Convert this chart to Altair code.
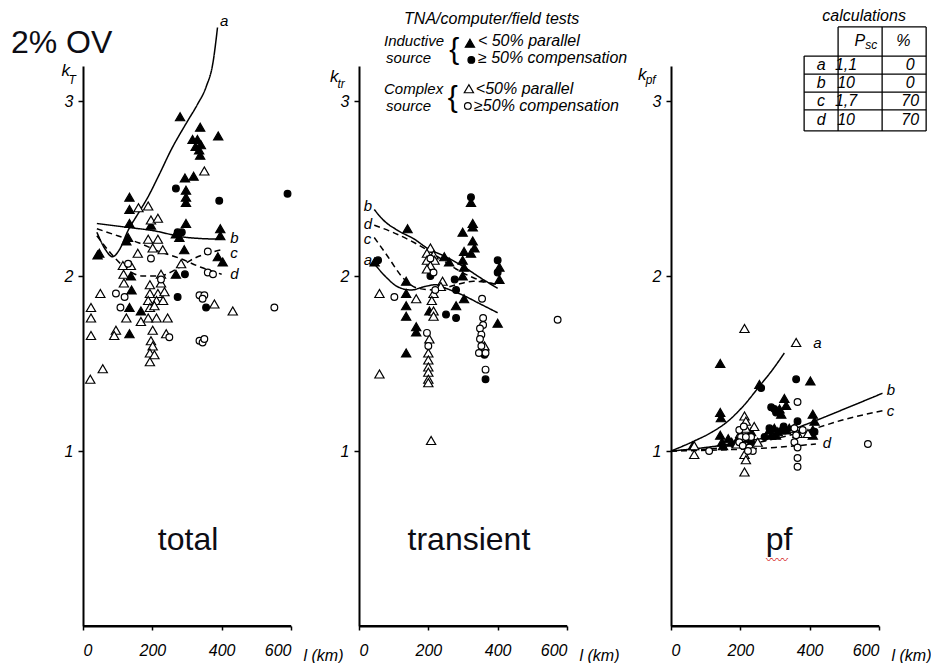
import altair as alt
import pandas as pd

# ------------------------------------------------------------------ data
# marker kinds: inductive source (<50% parallel / >=50% compensation),
#               complex source   (<50% parallel / >=50% compensation)
KINDS = ["ind_par", "ind_comp", "cx_par", "cx_comp"]

# ---- total (k_T)
TOTAL_IND_PAR = [(280, 2.91), (338, 2.85), (390, 2.80), (316, 2.78), (330, 2.78), (340, 2.75),
                 (325, 2.74), (335, 2.72), (338, 2.69), (294, 2.56), (319, 2.57), (297, 2.49),
                 (297, 2.45), (297, 2.42), (134, 2.45), (134, 2.38), (134, 2.30), (130, 2.22),
                 (125, 2.20), (47, 2.13), (42, 2.12), (196, 2.29), (297, 2.30), (268, 2.24),
                 (278, 2.22), (396, 2.27), (396, 2.23), (292, 2.15), (389, 2.11), (403, 2.08),
                 (268, 2.01), (138, 2.00), (140, 1.92), (134, 1.82), (167, 1.80), (134, 1.67)]
TOTAL_IND_COMP = [(268, 2.50), (393, 2.43), (590, 2.47), (273, 2.25), (294, 2.01), (273, 1.88),
                  (355, 1.82), (285, 2.25)]
TOTAL_CX_PAR = [(160, 2.39), (188, 2.40), (196, 2.32), (216, 2.33), (188, 2.21), (216, 2.21),
                (201, 2.16), (230, 2.15), (158, 2.13), (350, 2.60), (283, 2.07), (115, 2.06),
                (138, 2.06), (117, 2.01), (225, 2.01), (118, 1.96), (193, 1.95), (225, 1.96),
                (193, 1.90), (216, 1.90), (235, 1.91), (50, 1.90), (188, 1.86), (212, 1.86),
                (231, 1.86), (193, 1.82), (206, 1.83), (23, 1.82), (23, 1.76), (125, 1.76),
                (167, 1.74), (188, 1.76), (212, 1.76), (244, 1.76), (432, 1.80), (379, 1.84),
                (23, 1.66), (95, 1.69), (90, 1.66), (201, 1.69), (196, 1.63), (201, 1.60),
                (193, 1.56), (206, 1.55), (193, 1.51), (240, 1.67), (57, 1.47), (21, 1.41)]
TOTAL_CX_COMP = [(196, 2.10), (360, 2.14), (360, 2.02), (375, 2.01), (95, 1.90), (336, 1.89),
                 (350, 1.89), (345, 1.87), (108, 1.82), (552, 1.82), (249, 1.65), (336, 1.63),
                 (345, 1.62), (350, 1.64), (225, 1.98), (130, 2.07), (120, 1.88)]

TOTAL_A = [(40, 2.25), (65, 2.15), (85, 2.11), (105, 2.15), (130, 2.26), (160, 2.36), (187, 2.45),
           (220, 2.58), (254, 2.72), (300, 2.88), (330, 2.98), (355, 3.08), (375, 3.22), (388, 3.42)]
TOTAL_B = [(40, 2.30), (120, 2.28), (200, 2.26), (300, 2.22), (400, 2.21)]
TOTAL_C = [(40, 2.23), (80, 2.13), (120, 2.05), (170, 2.00), (220, 2.00), (270, 2.04),
           (320, 2.10), (400, 2.15)]
TOTAL_D = [(40, 2.27), (100, 2.23), (160, 2.19), (220, 2.14), (280, 2.10), (340, 2.05), (400, 2.01)]

# ---- transient (k_tr)
TRANS_IND_PAR = [(140, 2.27), (323, 2.42), (328, 2.30), (328, 2.28), (299, 2.25), (328, 2.20),
                 (333, 2.16), (323, 2.13), (303, 2.14), (299, 2.09), (303, 2.05), (405, 2.05),
                 (405, 1.98), (45, 2.08), (136, 1.97), (136, 1.90), (136, 1.83), (136, 1.77),
                 (165, 1.71), (165, 1.68), (136, 1.56), (203, 1.80), (280, 1.83), (303, 1.87),
                 (400, 1.73), (299, 2.00), (246, 2.11), (260, 2.08)]
TRANS_IND_COMP = [(323, 2.45), (400, 2.09), (400, 2.02), (55, 2.09), (251, 1.78), (280, 1.76),
                  (362, 1.55), (365, 1.41), (280, 1.92), (276, 1.98), (206, 2.00)]
TRANS_CX_PAR = [(59, 1.90), (59, 1.44), (165, 1.87), (206, 2.16), (196, 2.13), (215, 2.12),
                (196, 2.09), (218, 2.09), (206, 2.06), (196, 2.04), (241, 1.97), (215, 1.90),
                (210, 1.86), (215, 1.80), (215, 1.77), (203, 1.64), (200, 1.56), (200, 1.52),
                (200, 1.48), (200, 1.45), (200, 1.41), (200, 1.39), (208, 1.06), (362, 1.60),
                (236, 1.94)]
TRANS_CX_COMP = [(102, 1.88), (355, 1.87), (358, 1.76), (358, 1.72), (349, 1.70), (353, 1.665),
                 (349, 1.64), (353, 1.60), (346, 1.56), (365, 1.56), (365, 1.465), (573, 1.75),
                 (206, 2.10), (215, 2.02), (196, 1.675), (200, 1.60), (220, 1.92)]

TRANS_A = [(44, 2.07), (80, 1.99), (110, 1.94), (150, 1.92), (190, 1.94), (220, 1.95),
           (250, 1.93), (300, 1.89), (350, 1.84), (400, 1.79)]
TRANS_B = [(44, 2.38), (70, 2.32), (112, 2.26), (160, 2.21), (196, 2.16), (250, 2.11),
           (304, 2.05), (350, 1.99), (400, 1.93)]
TRANS_C = [(44, 2.22), (80, 2.12), (131, 1.98), (170, 1.93), (220, 1.92), (280, 1.95),
           (330, 1.97), (400, 1.95)]
TRANS_D = [(44, 2.29), (97, 2.25), (160, 2.19), (220, 2.12), (280, 2.04), (330, 1.99), (400, 1.95)]

# ---- pf (k_pf)
PF_IND_PAR = [(142, 1.50), (402, 1.40), (255, 1.38), (142, 1.22), (144, 1.19), (327, 1.30),
              (332, 1.26), (313, 1.24), (318, 1.21), (409, 1.21), (414, 1.17), (409, 1.12),
              (409, 1.09), (142, 1.09), (147, 1.05), (165, 1.07), (175, 1.05), (284, 1.12),
              (298, 1.13), (308, 1.11), (317, 1.12), (332, 1.12), (341, 1.13), (289, 1.09),
              (303, 1.09), (63, 1.03), (231, 1.11), (222, 1.07), (190, 1.06), (150, 1.03)]
PF_IND_COMP = [(361, 1.41), (260, 1.36), (289, 1.25), (298, 1.24), (303, 1.22), (365, 1.17),
               (414, 1.11), (284, 1.13), (231, 1.05), (270, 1.08), (325, 1.14)]
PF_CX_PAR = [(212, 1.70), (361, 1.62), (212, 1.20), (216, 1.17), (216, 1.13), (240, 1.14),
             (250, 1.05), (67, 1.03), (67, 0.98), (212, 0.98), (216, 0.95), (212, 0.88),
             (190, 1.04), (355, 1.13), (365, 1.10), (395, 1.10), (200, 1.10)]
PF_CX_COMP = [(110, 1.00), (365, 1.28), (568, 1.04), (197, 1.12), (202, 1.08), (197, 1.05),
              (207, 1.03), (226, 1.02), (231, 1.08), (216, 1.08), (356, 1.13), (361, 1.09),
              (356, 1.05), (365, 1.02), (365, 0.96), (365, 0.91), (236, 1.00), (222, 1.00),
              (380, 1.12), (210, 1.14)]

PF_A = [(0, 1.0), (67, 1.057), (120, 1.11), (164, 1.17), (210, 1.26), (255, 1.37), (295, 1.47), (327, 1.56)]
PF_B = [(0, 1.0), (100, 1.02), (200, 1.05), (300, 1.09), (400, 1.16), (500, 1.24), (610, 1.33)]
PF_C = [(0, 1.0), (100, 1.01), (200, 1.03), (300, 1.07), (400, 1.12), (500, 1.18), (610, 1.23)]
PF_D = [(0, 1.0), (200, 1.01), (300, 1.02), (418, 1.04)]

X_TICKS = [0, 200, 400, 600]
Y_TICKS = [1, 2, 3]
X_RANGE = [0, 600]

# calculations table
CALC_ROWS = ["a", "b", "c", "d"]
CALC_PSC = ["1,1", "10", "1,7", "10"]
CALC_PCT = ["0", "0", "70", "70"]

# ------------------------------------------------------------------ style
FONT = "Liberation Sans, Arial, sans-serif"
W, H = 208, 560
XS = alt.Scale(domain=X_RANGE, nice=False, zero=False)
YS = alt.Scale(domain=[0, 3.2], nice=False, zero=False)
SHAPES = ["triangle-up", "circle", "triangle-up", "circle"]
FILLS = ["black", "black", "white", "white"]
SIZES = [85, 45, 85, 45]


def xenc():
    return alt.X("l:Q", scale=XS,
                 axis=alt.Axis(values=X_TICKS, title="l (km)", titleX=W + 12, titleY=29,
                               titleAlign="left", titleBaseline="middle", titleAngle=0,
                               orient="bottom", domain=True, domainColor="black", domainWidth=2,
                               ticks=True, tickColor="black", tickSize=4, tickWidth=1.5,
                               labelPadding=12))


def yenc():
    return alt.Y("k:Q", scale=YS,
                 axis=alt.Axis(values=Y_TICKS, title=None, tickSize=5, labelPadding=5))


def baseline_layer():
    df = pd.DataFrame({"l": [X_RANGE[0]], "l2": [X_RANGE[1]], "k": [0.0]})
    return alt.Chart(df).mark_rule(color="black", strokeWidth=2).encode(
        x=xenc(), x2="l2:Q", y=yenc())


def points_layer(groups):
    rows = []
    for kind, shp, sz, pts in zip(KINDS, SHAPES, SIZES, groups):
        for l, k in pts:
            rows.append({"l": l, "k": k, "kind": kind, "sz": sz})
    return alt.Chart(pd.DataFrame(rows)).mark_point(
        filled=True, stroke="black", strokeWidth=1.2, opacity=1
    ).encode(
        x=xenc(), y=yenc(),
        shape=alt.Shape("kind:N", scale=alt.Scale(domain=KINDS, range=SHAPES), legend=None),
        fill=alt.Fill("kind:N", scale=alt.Scale(domain=KINDS, range=FILLS), legend=None),
        size=alt.Size("sz:Q", scale=None),
    )


def curve_layer(curves):
    rows = []
    for name, style, pts in curves:
        for i, (l, k) in enumerate(pts):
            rows.append({"l": l, "k": k, "curve": name, "style": style, "i": i})
    return alt.Chart(pd.DataFrame(rows)).mark_line(
        color="black", strokeWidth=1.5, interpolate="monotone"
    ).encode(
        x=xenc(), y=yenc(), detail="curve:N", order="i:Q",
        strokeDash=alt.StrokeDash("style:N",
                                  scale=alt.Scale(domain=["solid", "dashed"], range=[[1, 0], [6, 4]]),
                                  legend=None),
    )


def text_layer(items, size, italic=True, align="left", font=FONT, color="black", baseline="middle"):
    df = pd.DataFrame(items, columns=["l", "k", "t"])
    return alt.Chart(df).mark_text(
        font=font, fontSize=size, fontStyle="italic" if italic else "normal",
        align=align, baseline=baseline, color=color
    ).encode(x=xenc(), y=yenc(), text="t:N")


def panel(groups, curves, curve_labels, k_main, k_sub, name, name_pos, extra=()):
    layers = [curve_layer(curves), points_layer(groups), baseline_layer(),
              text_layer(curve_labels, 15),
              text_layer([k_main], 17),
              text_layer([k_sub], 12),
              text_layer([(name_pos[0], name_pos[1], name)], 32, italic=False, align="center",
                         color="#0d0d14")]
    layers += list(extra)
    return alt.layer(*layers).properties(width=W, height=H)


def spacer(width):
    return alt.Chart(pd.DataFrame({"v": [0]})).mark_point(opacity=0).encode(
        x=alt.X("v:Q", axis=None), y=alt.Y("v:Q", axis=None)
    ).properties(width=width, height=H)


# ---- panel 1: total
p1 = panel(
    [TOTAL_IND_PAR, TOTAL_IND_COMP, TOTAL_CX_PAR, TOTAL_CX_COMP],
    [("a", "solid", TOTAL_A), ("b", "solid", TOTAL_B), ("c", "dashed", TOTAL_C), ("d", "dashed", TOTAL_D)],
    [(395, 3.46, "a"), (425, 2.22, "b"), (425, 2.13, "c"), (425, 2.01, "d")],
    (-62, 3.17, "k"), (-42, 3.12, "T"),
    "total", (303, 0.49),
    extra=[text_layer([(-208, 3.33, "2% OV")], 32, italic=False, color="#0d0d14")],
)

# ---- panel 2: transient (with legend of symbols)
LEG_SYMBOLS = [[(320, 3.33)], [(324, 3.235)], [(317, 3.07)], [(314, 2.972)]]
legend_head = text_layer([(130, 3.47, "TNA/computer/field tests")], 16)
legend_left = text_layer([
    (72, 3.345, "Inductive"), (78, 3.245, "source"),
    (72, 3.07, "Complex"), (78, 2.97, "source"),
], 15)
legend_right = text_layer([
    (343, 3.345, "< 50% parallel"), (343, 3.245, "≥ 50% compensation"),
    (337, 3.07, "<50% parallel"), (332, 2.97, "≥50% compensation"),
], 16)
braces = text_layer([(260, 3.29, "{"), (256, 3.02, "{")], 30, italic=False)
p2 = panel(
    [TRANS_IND_PAR, TRANS_IND_COMP, TRANS_CX_PAR, TRANS_CX_COMP],
    [("a", "solid", TRANS_A), ("b", "solid", TRANS_B), ("c", "dashed", TRANS_C), ("d", "dashed", TRANS_D)],
    [(14, 2.40, "b"), (14, 2.30, "d"), (14, 2.21, "c"), (14, 2.09, "a")],
    (-84, 3.14, "k"), (-62, 3.10, "tr"),
    "transient", (317, 0.49),
    extra=[points_layer(LEG_SYMBOLS), legend_head, legend_left, legend_right, braces],
)

# ---- panel 3: pf (with calculations table)
COL_EDGES = [384, 482, 609, 736]
ROW_EDGES = [3.423, 3.257, 3.154, 3.051, 2.949, 2.829]
rule_rows = []
for j, kk in enumerate(ROW_EDGES):
    rule_rows.append({"l": COL_EDGES[1] if j == 0 else COL_EDGES[0], "l2": COL_EDGES[3], "k": kk, "k2": kk})
for i, ll in enumerate(COL_EDGES):
    rule_rows.append({"l": ll, "l2": ll, "k": ROW_EDGES[1] if i == 0 else ROW_EDGES[0], "k2": ROW_EDGES[-1]})
table_rules = alt.Chart(pd.DataFrame(rule_rows)).mark_rule(color="black", strokeWidth=1.3).encode(
    x=xenc(), x2="l2:Q", y=yenc(), y2="k2:Q")
row_k = [3.205, 3.102, 3.0, 2.89]
cells = [(557, 3.485, "calculations")]
cells += [(545, 3.345, "P")]
cells += [(670, 3.345, "%")]
for r, p, c, kk in zip(CALC_ROWS, CALC_PSC, CALC_PCT, row_k):
    cells.append((433, kk, r))
    cells.append((505, kk, p))
    cells.append((690, kk, c))
table_text = text_layer(cells, 16, align="center")
table_sub = text_layer([(560, 3.32, "sc")], 12, align="left")
squiggle = text_layer([(306, 0.37, "〰〰")], 11, italic=False, align="center",
                      font="Noto Sans CJK SC, DejaVu Sans", color="#d62020")

p3 = panel(
    [PF_IND_PAR, PF_IND_COMP, PF_CX_PAR, PF_CX_COMP],
    [("a", "solid", PF_A), ("b", "solid", PF_B), ("c", "dashed", PF_C), ("d", "dashed", PF_D)],
    [(410, 1.62, "a"), (622, 1.35, "b"), (622, 1.23, "c"), (438, 1.045, "d")],
    (-95, 3.15, "k"), (-73, 3.12, "pf"),
    "pf", (312, 0.49),
    extra=[table_rules, table_text, table_sub, squiggle],
)

chart = alt.hconcat(p1, spacer(2), p2, spacer(38), p3, spacing=33, bounds="flush").properties(
    padding={"left": 2, "top": 0, "right": 0, "bottom": 0},
).configure_view(stroke=None).configure_axis(
    grid=False, domain=True, domainColor="black", domainWidth=2, domainOpacity=1,
    tickColor="black", tickWidth=1.5,
    labelColor="black", labelFont=FONT, labelFontStyle="italic", labelFontSize=16,
    titleColor="black", titleFont=FONT, titleFontStyle="italic", titleFontWeight="normal",
    titleFontSize=16,
)

chart.save("out.html", embed_options={"renderer": "svg", "actions": False})
